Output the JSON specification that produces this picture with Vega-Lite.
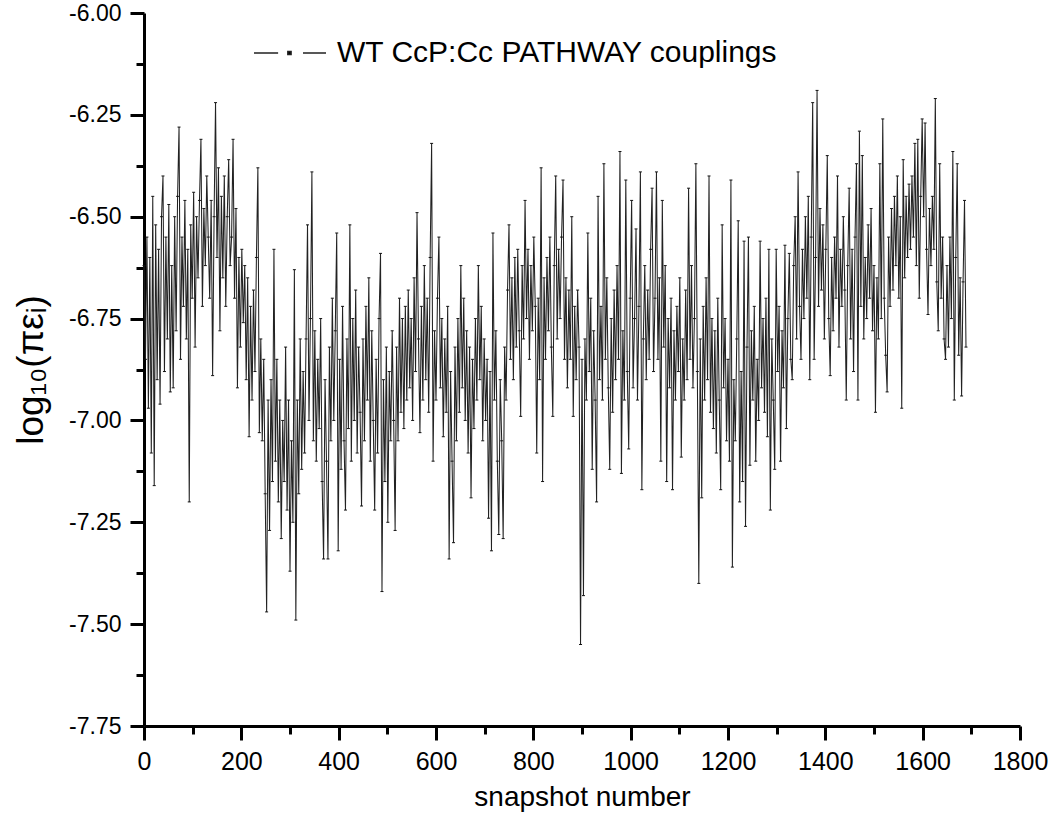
{
"$schema": "https://vega.github.io/schema/vega-lite/v6.json",
"width": 876, "height": 713,
"autosize": "none",
"padding": {"left": 144, "top": 13, "right": 30, "bottom": 100},
"config": {"view": {"stroke": null}, "font": "Liberation Sans", "background": "white"},
"data": {"values": [
{"s":0,"v":-6.62},{"s":3,"v":-6.85},{"s":6,"v":-6.55},{"s":9,"v":-6.97},{"s":12,"v":-6.60},{"s":15,"v":-7.08},{"s":18,"v":-6.45},{"s":21,"v":-7.16},{"s":24,"v":-6.52},{"s":27,"v":-6.90},
{"s":30,"v":-6.58},{"s":33,"v":-6.96},{"s":36,"v":-6.50},{"s":39,"v":-6.40},{"s":42,"v":-6.88},{"s":45,"v":-6.55},{"s":48,"v":-6.80},{"s":51,"v":-6.47},{"s":54,"v":-6.93},{"s":57,"v":-6.62},
{"s":60,"v":-6.92},{"s":63,"v":-6.50},{"s":66,"v":-6.78},{"s":69,"v":-6.45},{"s":72,"v":-6.28},{"s":75,"v":-6.85},{"s":78,"v":-6.55},{"s":81,"v":-6.72},{"s":84,"v":-6.46},{"s":87,"v":-6.80},
{"s":90,"v":-6.58},{"s":93,"v":-7.20},{"s":96,"v":-6.52},{"s":99,"v":-6.70},{"s":102,"v":-6.44},{"s":105,"v":-6.82},{"s":108,"v":-6.50},{"s":111,"v":-6.65},{"s":114,"v":-6.46},{"s":117,"v":-6.31},
{"s":120,"v":-6.72},{"s":123,"v":-6.48},{"s":126,"v":-6.62},{"s":129,"v":-6.40},{"s":132,"v":-6.55},{"s":135,"v":-6.70},{"s":138,"v":-6.46},{"s":141,"v":-6.89},{"s":144,"v":-6.50},{"s":147,"v":-6.22},
{"s":150,"v":-6.60},{"s":153,"v":-6.38},{"s":156,"v":-6.78},{"s":159,"v":-6.45},{"s":162,"v":-6.65},{"s":165,"v":-6.40},{"s":168,"v":-6.72},{"s":171,"v":-6.50},{"s":174,"v":-6.36},{"s":177,"v":-6.62},
{"s":180,"v":-6.55},{"s":183,"v":-6.31},{"s":186,"v":-6.70},{"s":189,"v":-6.48},{"s":192,"v":-6.92},{"s":195,"v":-6.60},{"s":198,"v":-6.82},{"s":201,"v":-6.58},{"s":204,"v":-6.76},{"s":207,"v":-6.62},
{"s":210,"v":-6.90},{"s":213,"v":-6.65},{"s":216,"v":-7.04},{"s":219,"v":-6.72},{"s":222,"v":-6.95},{"s":225,"v":-6.68},{"s":228,"v":-6.88},{"s":231,"v":-6.60},{"s":234,"v":-6.38},{"s":237,"v":-7.03},
{"s":240,"v":-6.80},{"s":243,"v":-7.05},{"s":246,"v":-6.85},{"s":249,"v":-7.18},{"s":252,"v":-7.47},{"s":255,"v":-6.95},{"s":258,"v":-7.27},{"s":261,"v":-6.90},{"s":264,"v":-7.15},{"s":267,"v":-6.58},
{"s":270,"v":-7.10},{"s":273,"v":-6.85},{"s":276,"v":-7.20},{"s":279,"v":-6.95},{"s":282,"v":-7.29},{"s":285,"v":-7.00},{"s":288,"v":-7.15},{"s":291,"v":-6.82},{"s":294,"v":-7.22},{"s":297,"v":-6.95},
{"s":300,"v":-7.37},{"s":303,"v":-7.05},{"s":306,"v":-7.25},{"s":309,"v":-6.63},{"s":312,"v":-7.49},{"s":315,"v":-6.95},{"s":318,"v":-7.18},{"s":321,"v":-6.80},{"s":324,"v":-7.12},{"s":327,"v":-6.88},
{"s":330,"v":-7.08},{"s":333,"v":-6.80},{"s":336,"v":-6.52},{"s":339,"v":-7.00},{"s":342,"v":-6.75},{"s":345,"v":-6.39},{"s":348,"v":-7.05},{"s":351,"v":-6.78},{"s":354,"v":-7.10},{"s":357,"v":-6.85},
{"s":360,"v":-7.02},{"s":363,"v":-6.75},{"s":366,"v":-7.15},{"s":369,"v":-7.34},{"s":372,"v":-6.90},{"s":375,"v":-7.10},{"s":378,"v":-7.34},{"s":381,"v":-6.82},{"s":384,"v":-7.05},{"s":387,"v":-6.70},
{"s":390,"v":-7.00},{"s":393,"v":-6.78},{"s":396,"v":-6.54},{"s":399,"v":-7.32},{"s":402,"v":-6.85},{"s":405,"v":-7.12},{"s":408,"v":-6.72},{"s":411,"v":-7.05},{"s":414,"v":-7.22},{"s":417,"v":-6.80},
{"s":420,"v":-7.02},{"s":423,"v":-6.52},{"s":426,"v":-7.10},{"s":429,"v":-6.75},{"s":432,"v":-7.00},{"s":435,"v":-6.68},{"s":438,"v":-7.08},{"s":441,"v":-6.82},{"s":444,"v":-6.98},{"s":447,"v":-7.21},
{"s":450,"v":-6.80},{"s":453,"v":-7.05},{"s":456,"v":-6.72},{"s":459,"v":-6.95},{"s":462,"v":-6.65},{"s":465,"v":-7.10},{"s":468,"v":-6.78},{"s":471,"v":-7.00},{"s":474,"v":-7.22},{"s":477,"v":-6.85},
{"s":480,"v":-7.08},{"s":483,"v":-6.75},{"s":486,"v":-6.59},{"s":489,"v":-7.42},{"s":492,"v":-6.90},{"s":495,"v":-7.15},{"s":498,"v":-6.82},{"s":501,"v":-7.25},{"s":504,"v":-6.88},{"s":507,"v":-7.05},
{"s":510,"v":-6.78},{"s":513,"v":-7.00},{"s":516,"v":-7.27},{"s":519,"v":-6.82},{"s":522,"v":-7.05},{"s":525,"v":-6.70},{"s":528,"v":-6.98},{"s":531,"v":-6.75},{"s":534,"v":-7.02},{"s":537,"v":-6.72},
{"s":540,"v":-6.95},{"s":543,"v":-6.68},{"s":546,"v":-6.92},{"s":549,"v":-6.75},{"s":552,"v":-7.00},{"s":555,"v":-6.65},{"s":558,"v":-6.88},{"s":561,"v":-6.49},{"s":564,"v":-6.80},{"s":567,"v":-7.03},
{"s":570,"v":-6.72},{"s":573,"v":-6.95},{"s":576,"v":-6.62},{"s":579,"v":-6.90},{"s":582,"v":-6.70},{"s":585,"v":-6.98},{"s":588,"v":-6.60},{"s":591,"v":-6.32},{"s":594,"v":-7.10},{"s":597,"v":-6.78},
{"s":600,"v":-6.95},{"s":603,"v":-6.70},{"s":606,"v":-6.55},{"s":609,"v":-6.92},{"s":612,"v":-6.75},{"s":615,"v":-7.04},{"s":618,"v":-6.80},{"s":621,"v":-6.98},{"s":624,"v":-6.72},{"s":627,"v":-7.34},
{"s":630,"v":-6.88},{"s":633,"v":-7.10},{"s":636,"v":-7.30},{"s":639,"v":-6.82},{"s":642,"v":-7.05},{"s":645,"v":-6.75},{"s":648,"v":-6.98},{"s":651,"v":-6.62},{"s":654,"v":-6.92},{"s":657,"v":-6.70},
{"s":660,"v":-7.00},{"s":663,"v":-6.78},{"s":666,"v":-7.08},{"s":669,"v":-6.82},{"s":672,"v":-7.19},{"s":675,"v":-6.85},{"s":678,"v":-7.02},{"s":681,"v":-6.75},{"s":684,"v":-6.95},{"s":687,"v":-6.62},
{"s":690,"v":-6.90},{"s":693,"v":-6.72},{"s":696,"v":-7.05},{"s":699,"v":-6.80},{"s":702,"v":-7.00},{"s":705,"v":-6.85},{"s":708,"v":-7.24},{"s":711,"v":-6.88},{"s":714,"v":-7.32},{"s":717,"v":-6.54},
{"s":720,"v":-6.95},{"s":723,"v":-6.78},{"s":726,"v":-7.10},{"s":729,"v":-7.28},{"s":732,"v":-6.90},{"s":735,"v":-7.05},{"s":738,"v":-7.29},{"s":741,"v":-6.82},{"s":744,"v":-6.95},{"s":747,"v":-6.68},
{"s":750,"v":-6.52},{"s":753,"v":-6.85},{"s":756,"v":-6.65},{"s":759,"v":-6.90},{"s":762,"v":-6.60},{"s":765,"v":-6.82},{"s":768,"v":-6.58},{"s":771,"v":-6.78},{"s":774,"v":-6.99},{"s":777,"v":-6.62},
{"s":780,"v":-6.80},{"s":783,"v":-6.46},{"s":786,"v":-6.75},{"s":789,"v":-6.58},{"s":792,"v":-6.85},{"s":795,"v":-6.62},{"s":798,"v":-6.78},{"s":801,"v":-6.55},{"s":804,"v":-6.72},{"s":807,"v":-7.08},
{"s":810,"v":-6.70},{"s":813,"v":-6.90},{"s":816,"v":-6.38},{"s":819,"v":-7.15},{"s":822,"v":-6.65},{"s":825,"v":-6.85},{"s":828,"v":-6.60},{"s":831,"v":-6.78},{"s":834,"v":-6.55},{"s":837,"v":-6.82},
{"s":840,"v":-6.99},{"s":843,"v":-6.62},{"s":846,"v":-6.40},{"s":849,"v":-6.80},{"s":852,"v":-6.58},{"s":855,"v":-6.75},{"s":858,"v":-6.55},{"s":861,"v":-6.41},{"s":864,"v":-6.85},{"s":867,"v":-6.65},
{"s":870,"v":-6.92},{"s":873,"v":-6.68},{"s":876,"v":-6.85},{"s":879,"v":-6.50},{"s":882,"v":-6.99},{"s":885,"v":-6.72},{"s":888,"v":-6.90},{"s":891,"v":-6.68},{"s":894,"v":-6.82},{"s":897,"v":-7.55},
{"s":900,"v":-6.85},{"s":903,"v":-7.43},{"s":906,"v":-6.80},{"s":909,"v":-6.95},{"s":912,"v":-6.54},{"s":915,"v":-6.88},{"s":918,"v":-6.70},{"s":921,"v":-7.12},{"s":924,"v":-6.78},{"s":927,"v":-6.95},
{"s":930,"v":-7.20},{"s":933,"v":-6.45},{"s":936,"v":-6.90},{"s":939,"v":-6.72},{"s":942,"v":-6.95},{"s":945,"v":-6.37},{"s":948,"v":-6.85},{"s":951,"v":-6.65},{"s":954,"v":-6.92},{"s":957,"v":-7.12},
{"s":960,"v":-6.75},{"s":963,"v":-6.98},{"s":966,"v":-6.68},{"s":969,"v":-6.90},{"s":972,"v":-6.62},{"s":975,"v":-6.85},{"s":978,"v":-6.34},{"s":981,"v":-7.13},{"s":984,"v":-6.78},{"s":987,"v":-6.95},
{"s":990,"v":-6.41},{"s":993,"v":-6.88},{"s":996,"v":-7.07},{"s":999,"v":-6.70},{"s":1002,"v":-6.46},{"s":1005,"v":-6.92},{"s":1008,"v":-6.75},{"s":1011,"v":-6.53},{"s":1014,"v":-6.95},{"s":1017,"v":-6.72},
{"s":1020,"v":-6.39},{"s":1023,"v":-7.17},{"s":1026,"v":-6.80},{"s":1029,"v":-6.62},{"s":1032,"v":-6.90},{"s":1035,"v":-6.68},{"s":1038,"v":-6.85},{"s":1041,"v":-6.58},{"s":1044,"v":-6.43},{"s":1047,"v":-6.88},
{"s":1050,"v":-6.70},{"s":1053,"v":-6.39},{"s":1056,"v":-6.85},{"s":1059,"v":-6.65},{"s":1062,"v":-7.10},{"s":1065,"v":-6.46},{"s":1068,"v":-6.82},{"s":1071,"v":-6.62},{"s":1074,"v":-7.15},{"s":1077,"v":-6.75},
{"s":1080,"v":-6.92},{"s":1083,"v":-6.70},{"s":1086,"v":-7.17},{"s":1089,"v":-6.78},{"s":1092,"v":-6.95},{"s":1095,"v":-6.72},{"s":1098,"v":-6.88},{"s":1101,"v":-6.65},{"s":1104,"v":-7.09},{"s":1107,"v":-6.80},
{"s":1110,"v":-6.95},{"s":1113,"v":-6.68},{"s":1116,"v":-6.90},{"s":1119,"v":-6.43},{"s":1122,"v":-6.85},{"s":1125,"v":-6.62},{"s":1128,"v":-6.92},{"s":1131,"v":-6.75},{"s":1134,"v":-6.37},{"s":1137,"v":-6.88},
{"s":1140,"v":-7.40},{"s":1143,"v":-6.80},{"s":1146,"v":-7.19},{"s":1149,"v":-6.72},{"s":1152,"v":-6.95},{"s":1155,"v":-6.65},{"s":1158,"v":-6.90},{"s":1161,"v":-6.40},{"s":1164,"v":-6.98},{"s":1167,"v":-6.75},
{"s":1170,"v":-7.02},{"s":1173,"v":-6.78},{"s":1176,"v":-7.08},{"s":1179,"v":-6.70},{"s":1182,"v":-6.95},{"s":1185,"v":-7.17},{"s":1188,"v":-6.52},{"s":1191,"v":-6.92},{"s":1194,"v":-6.75},{"s":1197,"v":-7.05},
{"s":1200,"v":-6.85},{"s":1203,"v":-7.10},{"s":1206,"v":-6.41},{"s":1209,"v":-7.36},{"s":1212,"v":-6.90},{"s":1215,"v":-7.05},{"s":1218,"v":-6.80},{"s":1221,"v":-6.51},{"s":1224,"v":-7.20},{"s":1227,"v":-6.88},
{"s":1230,"v":-7.15},{"s":1233,"v":-6.56},{"s":1236,"v":-7.26},{"s":1239,"v":-6.82},{"s":1242,"v":-6.55},{"s":1245,"v":-7.11},{"s":1248,"v":-6.78},{"s":1251,"v":-6.95},{"s":1254,"v":-6.72},{"s":1257,"v":-7.10},
{"s":1260,"v":-6.85},{"s":1263,"v":-7.00},{"s":1266,"v":-6.56},{"s":1269,"v":-6.92},{"s":1272,"v":-6.75},{"s":1275,"v":-6.98},{"s":1278,"v":-6.70},{"s":1281,"v":-7.04},{"s":1284,"v":-6.58},{"s":1287,"v":-7.22},
{"s":1290,"v":-6.80},{"s":1293,"v":-6.95},{"s":1296,"v":-7.12},{"s":1299,"v":-6.58},{"s":1302,"v":-6.88},{"s":1305,"v":-6.72},{"s":1308,"v":-7.10},{"s":1311,"v":-6.78},{"s":1314,"v":-6.92},{"s":1317,"v":-6.57},
{"s":1320,"v":-7.02},{"s":1323,"v":-6.75},{"s":1326,"v":-6.59},{"s":1329,"v":-6.85},{"s":1332,"v":-6.90},{"s":1335,"v":-6.62},{"s":1338,"v":-6.50},{"s":1341,"v":-6.80},{"s":1344,"v":-6.39},{"s":1347,"v":-6.72},
{"s":1350,"v":-6.85},{"s":1353,"v":-6.58},{"s":1356,"v":-6.75},{"s":1359,"v":-6.50},{"s":1362,"v":-6.70},{"s":1365,"v":-6.45},{"s":1368,"v":-6.90},{"s":1371,"v":-6.55},{"s":1374,"v":-6.22},{"s":1377,"v":-6.85},
{"s":1380,"v":-6.60},{"s":1383,"v":-6.19},{"s":1386,"v":-6.72},{"s":1389,"v":-6.48},{"s":1392,"v":-6.68},{"s":1395,"v":-6.52},{"s":1398,"v":-6.80},{"s":1401,"v":-6.58},{"s":1404,"v":-6.35},{"s":1407,"v":-6.75},
{"s":1410,"v":-6.89},{"s":1413,"v":-6.60},{"s":1416,"v":-6.78},{"s":1419,"v":-6.55},{"s":1422,"v":-6.70},{"s":1425,"v":-6.40},{"s":1428,"v":-6.82},{"s":1431,"v":-6.58},{"s":1434,"v":-6.72},{"s":1437,"v":-6.50},
{"s":1440,"v":-6.68},{"s":1443,"v":-6.95},{"s":1446,"v":-6.62},{"s":1449,"v":-6.43},{"s":1452,"v":-6.80},{"s":1455,"v":-6.58},{"s":1458,"v":-6.88},{"s":1461,"v":-6.55},{"s":1464,"v":-6.37},{"s":1467,"v":-6.95},
{"s":1470,"v":-6.29},{"s":1473,"v":-6.72},{"s":1476,"v":-6.35},{"s":1479,"v":-6.80},{"s":1482,"v":-6.60},{"s":1485,"v":-6.75},{"s":1488,"v":-6.52},{"s":1491,"v":-6.70},{"s":1494,"v":-6.48},{"s":1497,"v":-6.78},
{"s":1500,"v":-6.62},{"s":1503,"v":-6.98},{"s":1506,"v":-6.65},{"s":1509,"v":-6.80},{"s":1512,"v":-6.37},{"s":1515,"v":-6.75},{"s":1518,"v":-6.26},{"s":1521,"v":-6.70},{"s":1524,"v":-6.84},{"s":1527,"v":-6.93},
{"s":1530,"v":-6.55},{"s":1533,"v":-6.72},{"s":1536,"v":-6.48},{"s":1539,"v":-6.68},{"s":1542,"v":-6.45},{"s":1545,"v":-6.62},{"s":1548,"v":-6.40},{"s":1551,"v":-6.70},{"s":1554,"v":-6.50},{"s":1557,"v":-6.97},
{"s":1560,"v":-6.36},{"s":1563,"v":-6.65},{"s":1566,"v":-6.45},{"s":1569,"v":-6.60},{"s":1572,"v":-6.42},{"s":1575,"v":-6.58},{"s":1578,"v":-6.40},{"s":1581,"v":-6.55},{"s":1584,"v":-6.32},{"s":1587,"v":-6.62},
{"s":1590,"v":-6.31},{"s":1593,"v":-6.70},{"s":1596,"v":-6.45},{"s":1599,"v":-6.26},{"s":1602,"v":-6.50},{"s":1605,"v":-6.27},{"s":1608,"v":-6.58},{"s":1611,"v":-6.74},{"s":1614,"v":-6.48},{"s":1617,"v":-6.62},
{"s":1620,"v":-6.45},{"s":1623,"v":-6.58},{"s":1626,"v":-6.21},{"s":1629,"v":-6.66},{"s":1632,"v":-6.78},{"s":1635,"v":-6.37},{"s":1638,"v":-6.70},{"s":1641,"v":-6.55},{"s":1644,"v":-6.80},{"s":1647,"v":-6.85},
{"s":1650,"v":-6.62},{"s":1653,"v":-6.82},{"s":1656,"v":-6.55},{"s":1659,"v":-6.75},{"s":1662,"v":-6.34},{"s":1665,"v":-6.95},{"s":1668,"v":-6.60},{"s":1671,"v":-6.37},{"s":1674,"v":-6.84},{"s":1677,"v":-6.65},
{"s":1680,"v":-6.94},{"s":1683,"v":-6.66},{"s":1686,"v":-6.46},{"s":1689,"v":-6.82}
]},
"layer": [
{
"mark": {"type": "line", "strokeWidth": 1.05},
"encoding": {
"x": {"field": "s", "type": "quantitative", "scale": {"domain": [0, 1800], "nice": false, "zero": false},
"axis": {"orient": "bottom", "values": [0,200,400,600,800,1000,1200,1400,1600,1800], "format": "d", "grid": false,
"domainColor": "black", "domainWidth": 3, "tickColor": "black", "tickWidth": 3, "tickSize": 14,
"labelFontSize": 25, "labelColor": "black", "labelPadding": 9, "labelFlush": false, "labelOverlap": false,
"title": "snapshot number", "titleFontSize": 28, "titleFontWeight": "normal", "titleColor": "black", "titlePadding": 9}},
"y": {"field": "v", "type": "quantitative", "scale": {"domain": [-7.75, -6.0], "nice": false, "zero": false},
"axis": {"orient": "left", "values": [-7.75,-7.5,-7.25,-7.0,-6.75,-6.5,-6.25,-6.0], "labelExpr": "replace(format(datum.value, '.2f'), '\u2212', '-')", "grid": false,
"domainColor": "black", "domainWidth": 3, "tickColor": "black", "tickWidth": 3, "tickSize": 14,
"labelFontSize": 23, "labelColor": "black", "labelPadding": 9, "labelFlush": false, "labelOverlap": false,
"title": "log₁₀(πεᵢ)", "titleFontSize": 37, "titleFontWeight": "normal", "titleColor": "black", "titlePadding": 18}},
"stroke": {"datum": "WT CcP:Cc PATHWAY couplings", "type": "nominal", "scale": {"range": ["#222222"]},
"legend": {"orient": "none", "legendX": 109, "legendY": 3, "title": null, "padding": 0,
"symbolType": "M-1,0H-0.33M0.36,0H1M-0.06,-0.045H0.03V0.045H-0.06Z", "symbolSize": 5184, "symbolStrokeWidth": 1.5,
"symbolStrokeColor": "black", "symbolFillColor": "black",
"labelFontSize": 30, "labelColor": "black", "labelOffset": 10, "labelLimit": 800}}
}
},
{
"mark": {"type": "point", "shape": "stroke", "size": 9, "strokeWidth": 1, "color": "#111111", "opacity": 1},
"encoding": {
"x": {"field": "s", "type": "quantitative",
"axis": {"orient": "bottom", "values": [100,300,500,700,900,1100,1300,1500,1700], "labels": false, "domain": false, "grid": false,
"tickColor": "black", "tickWidth": 3, "tickSize": 8, "title": null}},
"y": {"field": "v", "type": "quantitative",
"axis": {"orient": "left", "values": [-7.625,-7.375,-7.125,-6.875,-6.625,-6.375,-6.125], "labels": false, "domain": false, "grid": false,
"tickColor": "black", "tickWidth": 3, "tickSize": 8, "title": null}}
}
}
],
"resolve": {"axis": {"x": "independent", "y": "independent"}}
}
